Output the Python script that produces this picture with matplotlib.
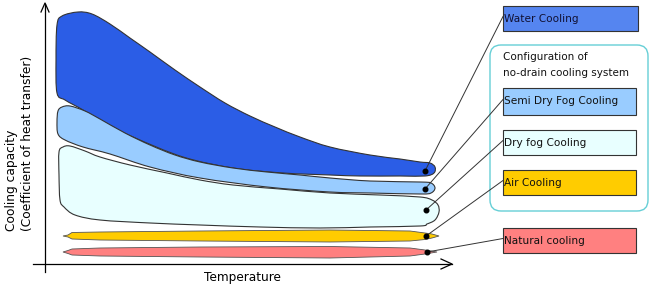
import matplotlib
matplotlib.use("Agg")
import matplotlib.pyplot as plt
import numpy as np
from matplotlib.path import Path
from matplotlib.patches import PathPatch, Polygon, FancyBboxPatch, Rectangle

plt.rcParams['font.family'] = ['DejaVu Sans']

# ---- data (schematic, read in pixel units of the reference) ----
categories = ["Water Cooling", "Semi Dry Fog Cooling", "Dry fog Cooling", "Air Cooling", "Natural cooling"]

water_x = [57, 62, 78, 92, 110, 130, 150, 175, 200, 225, 250, 275, 300, 330, 370, 400, 420, 430, 435, 434, 425, 400, 360, 330, 283, 233, 183, 133, 100, 83, 65, 57, 56]
water_y = [25, 16, 12, 14, 24, 38, 52, 70, 87, 103, 116, 127, 137, 147, 155, 159, 162, 163, 167, 173, 176, 176, 176, 175, 173, 168, 157, 137, 121, 110, 100, 93, 60]

semi_x = [58, 62, 70, 85, 100, 125, 150, 175, 200, 233, 267, 300, 330, 370, 420, 431, 435, 431, 420, 370, 330, 267, 200, 150, 110, 83, 65, 58, 57]
semi_y = [111, 107, 106, 111, 119, 133, 145, 155, 162, 168, 172, 175, 178, 181, 182, 183, 188, 193, 194, 193, 192, 187, 178, 167, 154, 147, 140, 134, 122]

dry_x = [59, 63, 70, 85, 100, 130, 167, 200, 233, 280, 330, 380, 420, 432, 438, 439, 435, 427, 420, 370, 320, 260, 200, 150, 100, 75, 64, 60, 59]
dry_y = [152, 147, 146, 151, 157, 165, 173, 180, 185, 189, 193, 195, 197, 200, 205, 212, 220, 224, 226, 227, 228, 227, 225, 223, 220, 215, 207, 200, 175]

air_x = [63, 68, 72, 100, 200, 330, 410, 425, 432, 439, 432, 425, 410, 330, 200, 100, 72, 68]
air_y = [236, 235, 232.5, 232, 231, 230, 231, 233, 234, 236, 238, 239.5, 241, 242, 241, 240, 239, 237]

nat_x = [63, 68, 72, 100, 200, 330, 410, 425, 437, 425, 410, 330, 200, 100, 72, 68]
nat_y = [252, 250.5, 249, 248, 247, 246.5, 248, 250, 252, 254, 256, 258, 257, 256, 255, 253.5]

dot_x = [425, 425, 426, 426, 427]
dot_y = [171, 189, 210, 236, 252]

box_top = [6, 88, 130, 170, 228]
box_bottom = [31, 115, 155, 195, 253]
box_left = 503
box_right = [638, 636, 636, 636, 636]

band_colors = ["#2b5de6", "#99ccff", "#e8ffff", "#ffcc00", "#ff8080"]
box_colors = ["#5585f0", "#99ccff", "#e8ffff", "#ffcc00", "#ff8080"]

# ---- figure ----
W, H = 650, 288
fig = plt.figure(figsize=(W / 100, H / 100), dpi=100)
ax = fig.add_axes([0, 0, 1, 1])
ax.set_xlim(0, W)
ax.set_ylim(H, 0)
ax.axis('off')


def smooth_closed_path(xs, ys):
    pts = np.column_stack([xs, ys]).astype(float)
    n = len(pts)
    verts = [pts[0]]
    codes = [Path.MOVETO]
    for i in range(n):
        p0 = pts[(i - 1) % n]
        p1 = pts[i]
        p2 = pts[(i + 1) % n]
        p3 = pts[(i + 2) % n]
        c1 = p1 + (p2 - p0) / 6.0
        c2 = p2 - (p3 - p1) / 6.0
        verts += [c1, c2, p2]
        codes += [Path.CURVE4] * 3
    verts.append(pts[0])
    codes.append(Path.CLOSEPOLY)
    return Path(verts, codes)


edge = "#333333"
for xs, ys, c in [(water_x, water_y, band_colors[0]),
                  (semi_x, semi_y, band_colors[1]),
                  (dry_x, dry_y, band_colors[2])]:
    ax.add_patch(PathPatch(smooth_closed_path(xs, ys), facecolor=c, edgecolor=edge, lw=0.8, zorder=2))

for xs, ys, c in [(air_x, air_y, band_colors[3]), (nat_x, nat_y, band_colors[4])]:
    ax.add_patch(Polygon(np.column_stack([xs, ys]), closed=True, facecolor=c, edgecolor="#555555", lw=0.6, zorder=2))

# axes with open arrowheads
ax.plot([45, 45], [272, 4], color="black", lw=0.9, zorder=3)
ax.plot([41, 45, 49], [12, 3, 12], color="black", lw=0.9, zorder=3)
ax.plot([33, 452], [264, 264], color="black", lw=0.9, zorder=3)
ax.plot([441, 452, 441], [259, 264, 269], color="black", lw=0.9, zorder=3)

# group frame
ax.add_patch(FancyBboxPatch((490, 45), 158, 166, boxstyle="round,pad=0,rounding_size=11",
                            facecolor="white", edgecolor="#66cfd6", lw=1.0, zorder=1))
ax.text(503, 57, "Configuration of", fontsize=7.5, va='center', ha='left', color="#111111")
ax.text(503, 72.5, "no-drain cooling system", fontsize=7.5, va='center', ha='left', color="#111111")

# label boxes, leaders, dots
for i, name in enumerate(categories):
    t, b, r = box_top[i], box_bottom[i], box_right[i]
    ax.add_patch(Rectangle((box_left, t), r - box_left, b - t, facecolor=box_colors[i],
                           edgecolor="#333333", lw=0.8, zorder=3))
    ax.text(box_left + 1.5, (t + b) / 2, name, fontsize=7.6, va='center', ha='left',
            color="#111133" if i == 0 else "#111111", zorder=4)
    ax.plot([dot_x[i], box_left], [dot_y[i], (t + b) / 2 - 2], color="#333333", lw=0.7, zorder=3)
    ax.plot(dot_x[i], dot_y[i], 'o', color="black", ms=3.3, zorder=5)

# axis labels
ax.text(12, 231, "Cooling capacity", rotation=90, fontsize=8.8, ha='center', va='bottom')
ax.text(28, 231, "(Coefficient of heat transfer)", rotation=90, fontsize=8.8, ha='center', va='bottom')
ax.text(242, 277, "Temperature", fontsize=8.7, ha='center', va='center')

fig.savefig("out.png", dpi=100)
